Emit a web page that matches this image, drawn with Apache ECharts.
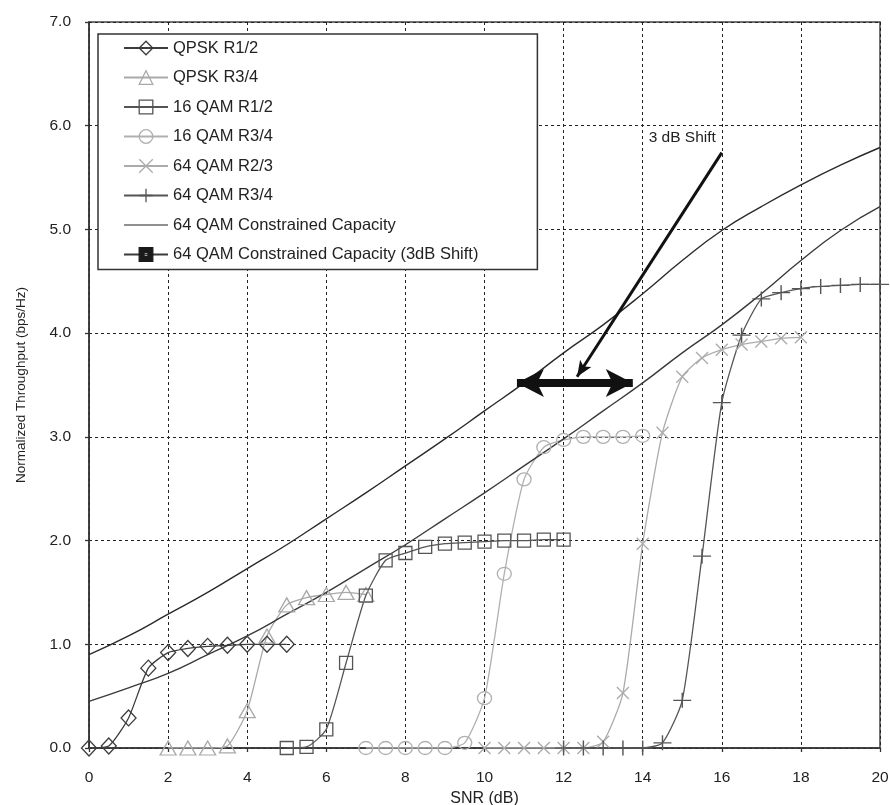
<!DOCTYPE html>
<html>
<head>
<meta charset="utf-8">
<script src="https://cdn.jsdelivr.net/npm/echarts@6/dist/echarts.min.js"></script>
<style>
html,body{margin:0;padding:0;background:#fff;}
#chart{width:890px;height:805px;}
</style>
</head>
<body>
<div id="chart"></div>
<script>
// ---------- data ----------
const xTicks = [0, 2, 4, 6, 8, 10, 12, 14, 16, 18, 20];
const yTicks = [0, 1, 2, 3, 4, 5, 6, 7];

const snrQpsk12 = [0, 0.5, 1, 1.5, 2, 2.5, 3, 3.5, 4, 4.5, 5];
const thrQpsk12 = [0, 0.02, 0.29, 0.77, 0.92, 0.96, 0.98, 0.99, 1.0, 1.0, 1.0];

const snrQpsk34 = [2, 2.5, 3, 3.5, 4, 4.5, 5, 5.5, 6, 6.5, 7];
const thrQpsk34 = [0, 0, 0, 0.02, 0.36, 1.08, 1.38, 1.45, 1.48, 1.5, 1.48];

const snr16q12 = [5, 5.5, 6, 6.5, 7, 7.5, 8, 8.5, 9, 9.5, 10, 10.5, 11, 11.5, 12];
const thr16q12 = [0, 0.01, 0.18, 0.82, 1.47, 1.81, 1.88, 1.94, 1.97, 1.98, 1.99, 2.0, 2.0, 2.01, 2.01];

const snr16q34 = [7, 7.5, 8, 8.5, 9, 9.5, 10, 10.5, 11, 11.5, 12, 12.5, 13, 13.5, 14];
const thr16q34 = [0, 0, 0, 0, 0, 0.05, 0.48, 1.68, 2.59, 2.9, 2.97, 3.0, 3.0, 3.0, 3.01];

const snr64q23 = [10, 10.5, 11, 11.5, 12, 12.5, 13, 13.5, 14, 14.5, 15, 15.5, 16, 16.5, 17, 17.5, 18];
const thr64q23 = [0, 0, 0, 0, 0, 0, 0.06, 0.53, 1.97, 3.04, 3.58, 3.76, 3.84, 3.89, 3.92, 3.95, 3.96];

const snr64q34 = [12, 12.5, 13, 13.5, 14, 14.5, 15, 15.5, 16, 16.5, 17, 17.5, 18, 18.5, 19, 19.5, 20];
const thr64q34 = [0, 0, 0, 0, 0, 0.05, 0.46, 1.85, 3.33, 3.98, 4.33, 4.39, 4.43, 4.45, 4.46, 4.47, 4.47];

const snrCap = [0, 1, 2, 3, 4, 5, 6, 7, 8, 9, 10, 11, 12, 13, 14, 15, 16, 17, 18, 19, 20];
const capConstrained = [0.9, 1.08, 1.29, 1.5, 1.73, 1.96, 2.21, 2.46, 2.72, 2.98, 3.25, 3.52, 3.81, 4.08, 4.38, 4.7, 4.99, 5.22, 5.43, 5.62, 5.79];
const capShifted = [0.45, 0.58, 0.72, 0.9, 1.08, 1.29, 1.5, 1.73, 1.96, 2.21, 2.46, 2.72, 2.98, 3.25, 3.52, 3.81, 4.08, 4.38, 4.7, 4.99, 5.22];

const seriesNames = [
  'QPSK R1/2', 'QPSK R3/4', '16 QAM R1/2', '16 QAM R3/4',
  '64 QAM R2/3', '64 QAM R3/4', '64 QAM Constrained Capacity',
  '64 QAM Constrained Capacity (3dB Shift)'
];

// annotation (data coordinates)
const shiftArrow = [[10.82, 3.52], [13.75, 3.52]];
const pointerArrow = [[16.0, 5.74], [12.34, 3.58]];
const shiftLabelPos = [15.0, 5.88];
const shiftLabel = '3 dB Shift';

// ---------- helpers ----------
function pairs(xs, ys) { return xs.map((x, i) => [x, ys[i]]); }

const SYM = {
  diamond: 'path://M5,0L10,5L5,10L0,5Z',
  triangle: 'path://M5,0L10,9L0,9Z',
  square: 'path://M0,0H10V10H0Z',
  circle: 'path://M0,5A5,5 0 1,1 10,5A5,5 0 1,1 0,5Z',
  cross: 'path://M0,0L10,10M10,0L0,10',
  plus: 'path://M5,0V10M0,5H10',
  filledSq: 'path://M0,0H10V10H0ZM3.5,3.5V6.5H6.5V3.5Z'
};
const FONT = '"Liberation Sans", Arial, Helvetica, sans-serif';

function markerSeries(name, xs, ys, sym, size, color) {
  return {
    name: name,
    type: 'line',
    data: pairs(xs, ys),
    symbol: sym,
    symbolSize: size,
    smooth: 0.2,
    lineStyle: { color: color, width: 1.3 },
    itemStyle: { color: 'rgba(0,0,0,0)', borderColor: color, borderWidth: 1.3 },
    emphasis: { disabled: true },
    animation: false
  };
}

const chart = echarts.init(document.getElementById('chart'), null, { renderer: 'canvas' });

const option = {
  animation: false,
  backgroundColor: '#fff',
  textStyle: { fontFamily: FONT },
  grid: {
    left: 89, right: 10, top: 22, bottom: 57,
    containLabel: false, outerBoundsMode: 'none',
    show: true, borderColor: '#444', borderWidth: 1.5, backgroundColor: 'rgba(0,0,0,0)'
  },
  legend: {
    orient: 'vertical',
    left: 98, top: 34,
    padding: [5.5, 59, 6.5, 25],
    backgroundColor: '#fff',
    borderColor: '#333', borderWidth: 1.5,
    itemWidth: 44, itemHeight: 17, itemGap: 12.5,
    textStyle: { fontSize: 16.5, color: '#222', fontFamily: FONT },
    itemStyle: { borderWidth: 1.3 },
    selectedMode: false,
    data: seriesNames.map((n, i) => i === 6
      ? { name: n, icon: 'path://M0,0M0,7.9H44V9.1H0ZM44,17', itemStyle: { borderWidth: 0, color: '#222' } }
      : { name: n })
  },
  xAxis: {
    type: 'value', min: 0, max: 20, interval: 2,
    name: 'SNR (dB)', nameLocation: 'middle', nameGap: 39,
    nameTextStyle: { fontSize: 16, color: '#222', fontFamily: FONT },
    axisLine: { show: true, lineStyle: { color: '#333', width: 1.5 } },
    axisTick: { show: true, inside: false, length: 4, lineStyle: { color: '#333', width: 1.3 } },
    axisLabel: { fontSize: 15.5, color: '#222', margin: 22, fontFamily: FONT,
      formatter: v => (xTicks.indexOf(v) >= 0 ? String(v) : '') },
    splitLine: { show: true, lineStyle: { color: '#222', width: 1, type: [3, 3] } }
  },
  yAxis: {
    type: 'value', min: 0, max: 7, interval: 1,
    name: 'Normalized Throughput (bps/Hz)', nameLocation: 'middle', nameGap: 61,
    nameTextStyle: { fontSize: 13.5, color: '#222', fontFamily: FONT },
    axisLine: { show: true, lineStyle: { color: '#333', width: 1.5 } },
    axisTick: { show: true, inside: false, length: 4, lineStyle: { color: '#333', width: 1.3 } },
    axisLabel: { fontSize: 15.5, color: '#222', margin: 18, fontFamily: FONT,
      formatter: v => (yTicks.indexOf(v) >= 0 ? v.toFixed(1) : '') },
    splitLine: { show: true, lineStyle: { color: '#222', width: 1, type: [3, 3] } }
  },
  series: [
    markerSeries(seriesNames[0], snrQpsk12, thrQpsk12, SYM.diamond, [15, 16], '#3c3c3c'),
    markerSeries(seriesNames[1], snrQpsk34, thrQpsk34, SYM.triangle, [16, 14], '#a9a9a9'),
    markerSeries(seriesNames[2], snr16q12, thr16q12, SYM.square, 13, '#555'),
    markerSeries(seriesNames[3], snr16q34, thr16q34, SYM.circle, [14, 13], '#b0b0b0'),
    markerSeries(seriesNames[4], snr64q23, thr64q23, SYM.cross, 12, '#ababab'),
    markerSeries(seriesNames[5], snr64q34, thr64q34, SYM.plus, [18, 15], '#555'),
    {
      name: seriesNames[6], type: 'line', data: pairs(snrCap, capConstrained),
      smooth: true, symbol: 'none', showSymbol: false,
      lineStyle: { color: '#2a2a2a', width: 1.4 },
      itemStyle: { color: '#2a2a2a' },
      emphasis: { disabled: true }, animation: false,
      markLine: {
        silent: true, animation: false,
        symbol: ['arrow', 'arrow'],
        label: { show: false },
        emphasis: { disabled: true },
        data: [
          [{ coord: shiftArrow[0], symbol: 'arrow', symbolSize: [21, 27], lineStyle: { color: '#111', width: 8, type: 'solid' } },
           { coord: shiftArrow[1], symbol: 'arrow', symbolSize: [21, 27] }],
          [{ coord: pointerArrow[0], symbol: 'none', lineStyle: { color: '#111', width: 3, type: 'solid' } },
           { coord: pointerArrow[1], symbol: 'arrow', symbolSize: [10, 16] }]
        ]
      },
      markPoint: {
        silent: true, animation: false,
        data: [{
          coord: shiftLabelPos, symbol: 'rect', symbolSize: 1,
          itemStyle: { color: 'rgba(0,0,0,0)' },
          label: { show: true, position: 'inside', formatter: shiftLabel, color: '#222', fontSize: 15.5, fontFamily: FONT }
        }]
      }
    },
    {
      name: seriesNames[7], type: 'line', data: pairs(snrCap, capShifted),
      smooth: true, symbol: SYM.filledSq, symbolSize: 10, showSymbol: false,
      lineStyle: { color: '#3a3a3a', width: 1.4 },
      itemStyle: { color: '#1a1a1a', borderColor: '#1a1a1a', borderWidth: 0 },
      emphasis: { disabled: true }, animation: false
    }
  ]
};
chart.setOption(option);
</script>
</body>
</html>
